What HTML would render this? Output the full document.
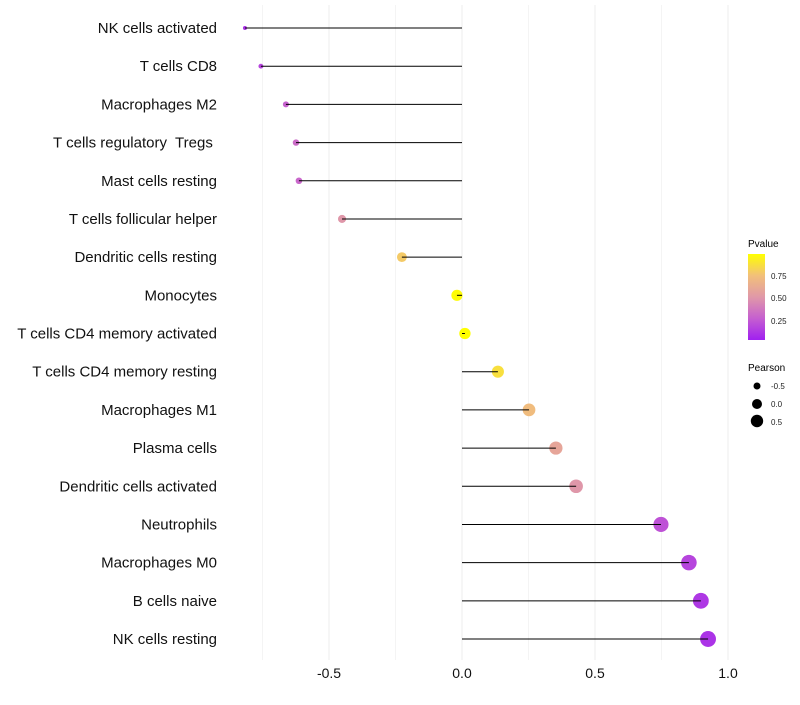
<!DOCTYPE html>
<html><head><meta charset="utf-8"><style>
body{margin:0;background:#fff;font-family:"Liberation Sans",sans-serif}
svg text{font-family:"Liberation Sans",sans-serif;white-space:pre}
</style></head><body>
<svg id="chart" width="800" height="700">
<defs><linearGradient id="pg" x1="0" y1="1" x2="0" y2="0">
<stop offset="0" stop-color="#A020F0"/><stop offset="0.25" stop-color="#c55fd0"/><stop offset="0.5" stop-color="#e098a8"/><stop offset="0.75" stop-color="#f2c07a"/><stop offset="1" stop-color="#FFFF00"/>
</linearGradient></defs>
<g id="grid"></g><g id="marks"></g><g id="axes"></g>
<g>
<text x="748" y="247" font-size="10" fill="#000">Pvalue</text>
<rect x="748" y="254" width="17" height="86" fill="url(#pg)"/>
<text x="771" y="279" font-size="8" fill="#222">0.75</text>
<text x="771" y="301" font-size="8" fill="#222">0.50</text>
<text x="771" y="324" font-size="8" fill="#222">0.25</text>
</g>
<g>
<text x="748" y="371" font-size="10" fill="#000">Pearson</text>
<circle cx="757" cy="386" r="3.5" fill="#000"/>
<text x="771" y="389" font-size="8" fill="#222">-0.5</text>
<circle cx="757" cy="404" r="5" fill="#000"/>
<text x="771" y="407" font-size="8" fill="#222">0.0</text>
<circle cx="757" cy="421" r="6.2" fill="#000"/>
<text x="771" y="425" font-size="8" fill="#222">0.5</text>
</g>
</svg>
<script>
const categories=["NK cells activated","T cells CD8","Macrophages M2","T cells regulatory  Tregs ","Mast cells resting","T cells follicular helper","Dendritic cells resting","Monocytes","T cells CD4 memory activated","T cells CD4 memory resting","Macrophages M1","Plasma cells","Dendritic cells activated","Neutrophils","Macrophages M0","B cells naive","NK cells resting"];
const pearson=[-0.816,-0.756,-0.662,-0.624,-0.613,-0.451,-0.226,-0.019,0.011,0.135,0.252,0.353,0.429,0.748,0.853,0.898,0.925];
const pvalue=[0.1,0.17,0.28,0.32,0.3,0.5,0.78,0.97,0.98,0.86,0.72,0.58,0.5,0.22,0.17,0.12,0.1];
const xTicks=[-0.5,0,0.5,1];
const xTickLabels=["-0.5","0.0","0.5","1.0"];
const gridVals=[-0.75,-0.5,-0.25,0,0.25,0.5,0.75,1];
const NS="http://www.w3.org/2000/svg";
const xs=v=>462+v*266;
const ys=i=>28+i*(611/16);
const rs=v=>Math.sqrt(Math.max(4+34*(v+0.816),2));
const stops=[[0,[160,32,240]],[0.25,[197,95,208]],[0.5,[224,152,168]],[0.75,[242,192,122]],[1,[255,255,0]]];
function col(p){p=Math.max(0,Math.min(1,(p-0.03)/0.95));for(let k=1;k<stops.length;k++){if(p<=stops[k][0]){const a=stops[k-1],b=stops[k],t=(p-a[0])/(b[0]-a[0]);return"rgb("+a[1].map((c,j)=>Math.round(c+(b[1][j]-c)*t)).join(",")+")";}}return"rgb(255,255,0)";}
function mk(t,a,parent){const e=document.createElementNS(NS,t);for(const k in a)e.setAttribute(k,a[k]);parent.appendChild(e);return e;}
const grid=document.getElementById('grid'),marks=document.getElementById('marks'),axes=document.getElementById('axes');
gridVals.forEach((v,i)=>{const l=mk('line',{x1:xs(v),x2:xs(v),y1:5,y2:660,stroke:i%2?"#ececec":"#f4f4f4","stroke-width":1},grid);

});
categories.forEach((c,i)=>{
const y=ys(i);
const t=mk('text',{x:217,y:y+5,"text-anchor":"end","font-size":15,fill:"#111"},axes);t.textContent=c;


const d=mk('circle',{cx:xs(pearson[i]),cy:y,r:rs(pearson[i]),fill:col(pvalue[i])},marks);


const s=mk('line',{x1:xs(0),x2:xs(pearson[i]),y1:y,y2:y,stroke:"#000","stroke-width":1},marks);


});
xTicks.forEach((v,i)=>{const t=mk('text',{x:xs(v),y:678,"text-anchor":"middle","font-size":14,fill:"#111"},axes);t.textContent=xTickLabels[i];

});
</script>
</body></html>
